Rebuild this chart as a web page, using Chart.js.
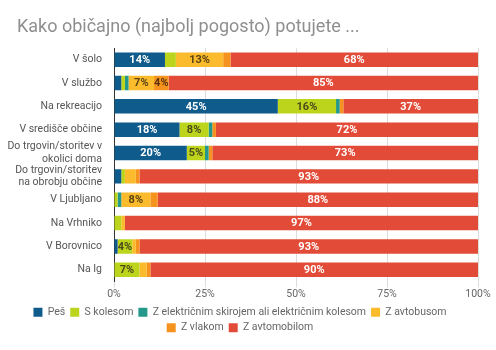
<!DOCTYPE html>
<html>
<head>
<meta charset="utf-8">
<script src="https://cdn.jsdelivr.net/npm/chart.js@4"></script>
<style>
  body { margin: 0; background: #fff; }
  #wrap { width: 496px; height: 350px; }
</style>
</head>
<body>
<div id="wrap"><canvas id="chart" width="496" height="350"></canvas></div>
<script>
const naslov = "Kako običajno (najbolj pogosto) potujete ...";

// categories (y axis)
const kraji = [
    "V šolo",
    "V službo",
    "Na rekreacijo",
    "V središče občine",
    ["Do trgovin/storitev v", "okolici doma"],
    ["Do trgovin/storitev", "na obrobju občine"],
    "V Ljubljano",
    "Na Vrhniko",
    "V Borovnico",
    "Na Ig"
];

// shares in %, one per category
const pes        = [14, 2, 45, 18, 20, 2, 0, 0, 1, 0];
const kolo       = [3, 1, 16, 8, 5, 1, 1, 2, 4, 7];
const elektricno = [0, 1, 1, 1, 1, 0, 1, 0, 0, 0];
const avtobus    = [13, 7, 0, 0, 0, 3, 8, 1, 1, 2];
const vlak       = [2, 4, 1, 1, 1, 1, 2, 0, 1, 1];
const avto       = [68, 85, 37, 72, 73, 93, 88, 97, 93, 90];

const xTicks = ["0%", "25%", "50%", "75%", "100%"];

const serije = [
    { label: "Peš", data: pes, color: "#0f5b8c", text: "#fff" },
    { label: "S kolesom", data: kolo, color: "#bcd51c", text: "#4a4a1c" },
    { label: "Z električnim skirojem ali električnim kolesom", data: elektricno, color: "#24988a", text: "#fff" },
    { label: "Z avtobusom", data: avtobus, color: "#fbbb2d", text: "#5a4512" },
    { label: "Z vlakom", data: vlak, color: "#f6931e", text: "#5a3410" },
    { label: "Z avtomobilom", data: avto, color: "#e24b37", text: "#fff" }
];

// simple inline value labels (no datalabels plugin available)
const oznake = {
    id: "oznake",
    afterDatasetsDraw(chart) {
        const ctx = chart.ctx;
        ctx.save();
        ctx.font = "bold 11px Roboto";
        ctx.textAlign = "center";
        ctx.textBaseline = "middle";
        chart.data.datasets.forEach((ds, i) => {
            const meta = chart.getDatasetMeta(i);
            meta.data.forEach((bar, j) => {
                const v = ds.data[j];
                if (v < 4) return;
                const p = bar.getProps(["x", "base", "y"], true);
                ctx.fillStyle = serije[i].text;
                ctx.fillText(v + "%", (p.x + p.base) / 2, p.y + 0.5);
            });
        });
        ctx.restore();
    }
};

// title drawn by hand so it can sit at x=17 while the y labels get more room
const naslovPlugin = {
    id: "naslov",
    afterDraw(chart) {
        const ctx = chart.ctx;
        ctx.save();
        ctx.font = "18px Roboto";
        ctx.fillStyle = "#8f8f8f";
        ctx.textAlign = "left";
        ctx.textBaseline = "middle";
        ctx.fillText(naslov, 17, 27);
        ctx.restore();
    }
};

new Chart(document.getElementById("chart"), {
    type: "bar",
    data: {
        labels: kraji,
        datasets: serije.map(s => ({
            label: s.label,
            data: s.data,
            backgroundColor: s.color,
            barPercentage: 0.62,
            categoryPercentage: 1
        }))
    },
    options: {
        indexAxis: "y",
        responsive: false,
        animation: false,
        layout: { padding: { left: 2, right: 18, top: 48, bottom: 7 } },
        scales: {
            x: {
                stacked: true,
                min: 0,
                max: 100,
                grid: { color: "#dcdcdc", tickLength: 6 },
                border: { display: false },
                ticks: {
                    stepSize: 25,
                    color: "#666",
                    font: { family: "Roboto", size: 10.5 },
                    padding: 1,
                    callback: (v, i) => xTicks[i]
                }
            },
            y: {
                stacked: true,
                grid: { display: false },
                border: { display: true, color: "#333" },
                ticks: {
                    autoSkip: false,
                    color: "#555",
                    font: { family: "Roboto", size: 10.5, lineHeight: 1.2 },
                    padding: 4
                },
                afterFit(scale) { scale.width = 112; }
            }
        },
        plugins: {
            legend: {
                position: "bottom",
                labels: {
                    boxWidth: 9,
                    boxHeight: 9,
                    color: "#666",
                    font: { family: "Roboto", size: 10.5 },
                    padding: 5
                }
            },
            tooltip: { enabled: false }
        }
    },
    plugins: [oznake, naslovPlugin]
});
</script>
</body>
</html>
